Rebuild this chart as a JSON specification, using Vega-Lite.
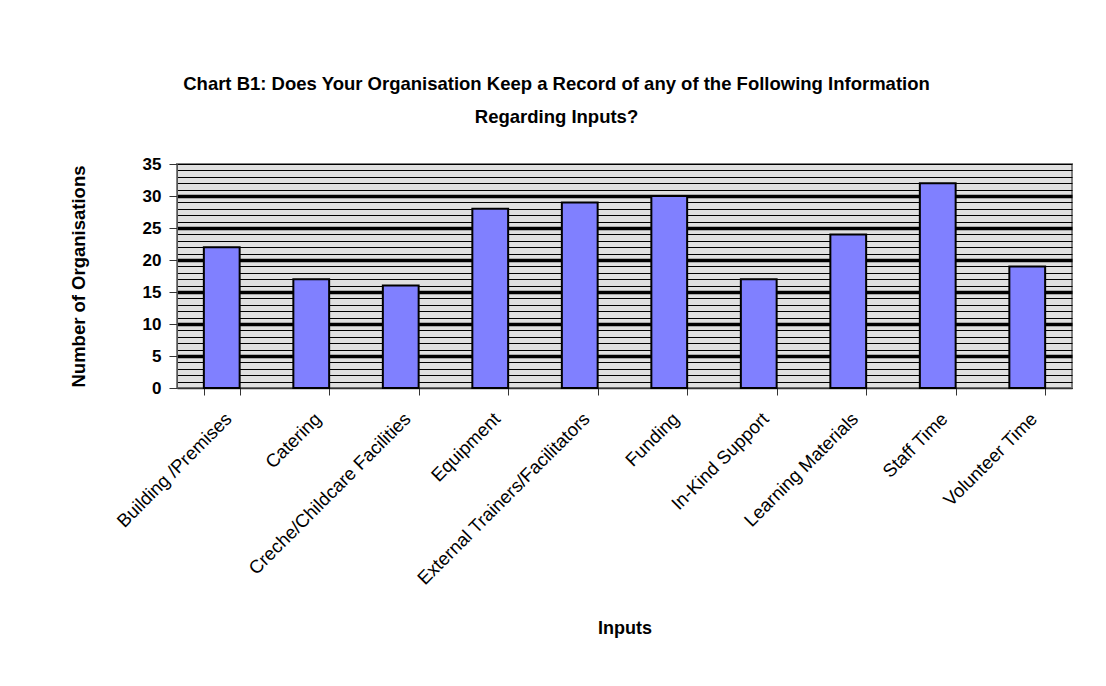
{
  "$schema": "https://vega.github.io/schema/vega-lite/v6.json",
  "autosize": {"type": "none"},
  "padding": {"left": 177, "top": 164, "right": 34, "bottom": 298},
  "width": 895,
  "height": 224,
  "background": "white",
  "title": {
    "text": ["Chart B1:  Does Your Organisation Keep a Record of any of the Following Information", "Regarding Inputs?"],
    "font": "Liberation Sans",
    "fontSize": 18.5,
    "fontWeight": "bold",
    "color": "black",
    "lineHeight": 33,
    "anchor": "middle",
    "dx": -68,
    "offset": 29
  },
  "data": {
    "values": [
      {"input": "Building /Premises", "count": 22},
      {"input": "Catering", "count": 17},
      {"input": "Creche/Childcare Facilities", "count": 16},
      {"input": "Equipment", "count": 28},
      {"input": "External Trainers/Facilitators", "count": 29},
      {"input": "Funding", "count": 30},
      {"input": "In-Kind Support", "count": 17},
      {"input": "Learning Materials", "count": 24},
      {"input": "Staff Time", "count": 32},
      {"input": "Volunteer Time", "count": 19}
    ]
  },
  "mark": {"type": "bar", "fill": "#8080FF", "stroke": "black", "strokeWidth": 2},
  "encoding": {
    "x": {
      "field": "input",
      "type": "nominal",
      "sort": null,
      "scale": {"paddingInner": 0.6, "paddingOuter": 0.3},
      "axis": {
        "title": "Inputs",
        "titleFont": "Liberation Sans",
        "titleFontSize": 18,
        "titleFontWeight": "bold",
        "titleColor": "black",
        "titlePadding": 31,
        "labelFont": "Liberation Sans",
        "labelFontSize": 18.5,
        "labelColor": "black",
        "labelAngle": -45,
        "labelAlign": "right",
        "labelBaseline": "top",
        "labelPadding": 14,
        "labelLimit": 400,
        "tickBand": "extent",
        "tickSize": 7,
        "tickColor": "#333333",
        "domainColor": "#333333",
        "domainWidth": 1.5
      }
    },
    "y": {
      "field": "count",
      "type": "quantitative",
      "scale": {"domain": [0, 35], "nice": false},
      "axis": {
        "title": "Number of Organisations",
        "titleFont": "Liberation Sans",
        "titleFontSize": 18.5,
        "titleFontWeight": "bold",
        "titleColor": "black",
        "titlePadding": 54,
        "values": [0,1,2,3,4,5,6,7,8,9,10,11,12,13,14,15,16,17,18,19,20,21,22,23,24,25,26,27,28,29,30,31,32,33,34,35],
        "labelExpr": "datum.value % 5 === 0 ? datum.label : ''",
        "labelFont": "Liberation Sans",
        "labelFontSize": 17,
        "labelFontWeight": "bold",
        "labelColor": "black",
        "labelPadding": 8,
        "tickSize": 8,
        "tickColor": "#333333",
        "tickOpacity": {"condition": {"test": "datum.value % 5 === 0", "value": 1}, "value": 0},
        "domainColor": "#555555",
        "grid": true,
        "gridColor": "black",
        "gridOpacity": 1,
        "gridWidth": {"condition": {"test": "datum.value % 5 === 0 && datum.value > 0 && datum.value < 35", "value": 3.5}, "value": 1}
      }
    }
  },
  "config": {
    "view": {"fill": "#E0E0E0", "stroke": "#808080", "strokeWidth": 2}
  }
}
